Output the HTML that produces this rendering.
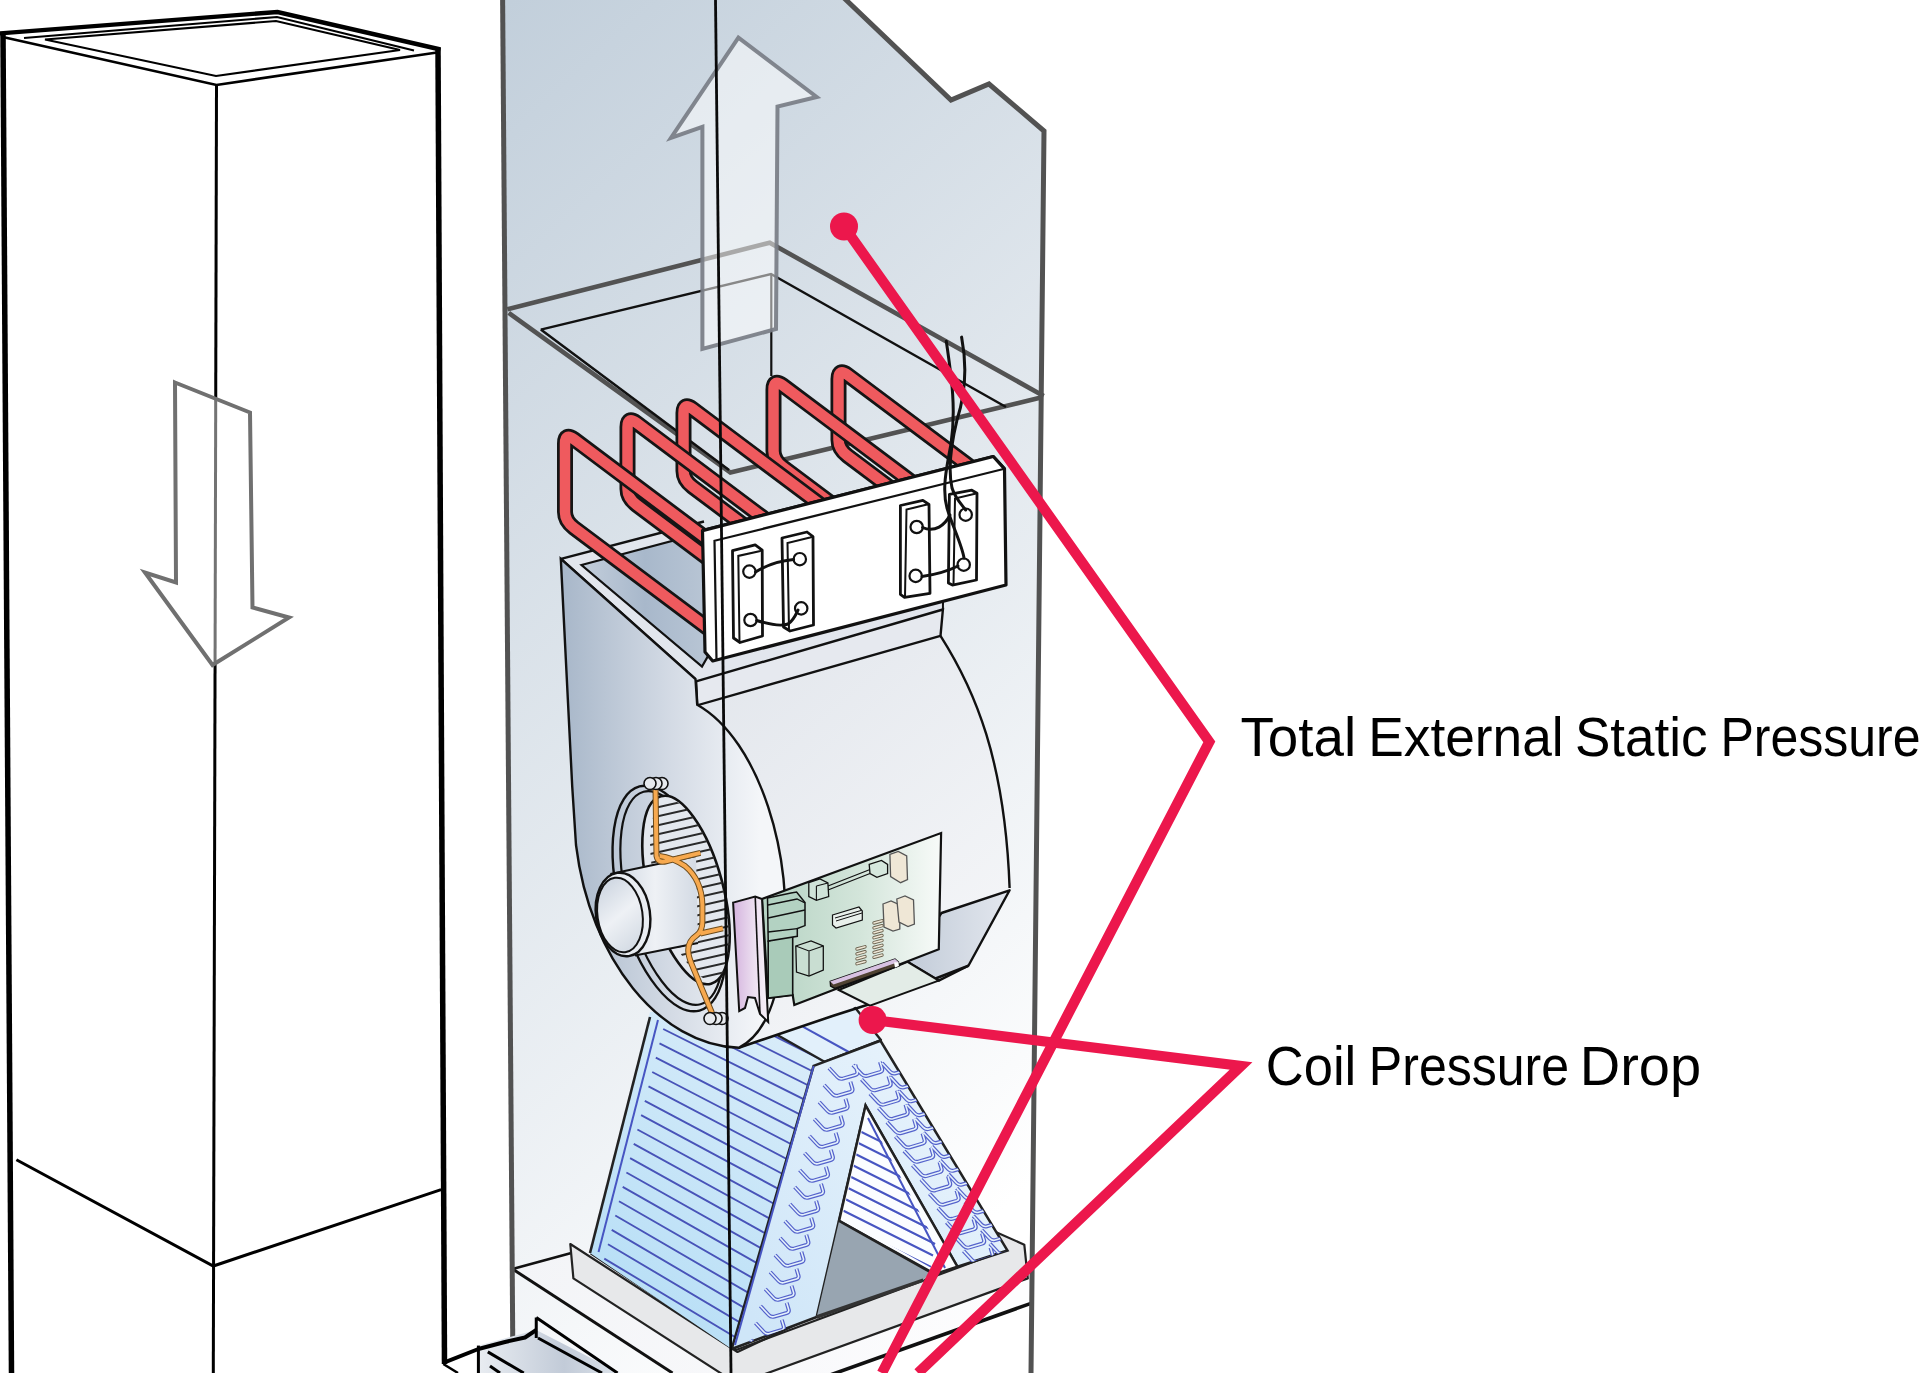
<!DOCTYPE html>
<html><head><meta charset="utf-8"><title>Total External Static Pressure</title>
<style>
html,body{margin:0;padding:0;background:#fff;}
body{width:1920px;height:1373px;overflow:hidden;}
svg{display:block;}
text{font-family:"Liberation Sans",sans-serif;}
</style></head>
<body>
<svg width="1920" height="1373" viewBox="0 0 1920 1373">

<defs>
  <linearGradient id="cab" gradientUnits="userSpaceOnUse" x1="510" y1="0" x2="1334.5" y2="909.2">
    <stop offset="0" stop-color="rgb(194,207,219)"/>
    <stop offset="1" stop-color="#ffffff"/>
  </linearGradient>
  <linearGradient id="side" gradientUnits="userSpaceOnUse" x1="565" y1="0" x2="760" y2="0">
    <stop offset="0" stop-color="#a9b8ca"/>
    <stop offset="0.55" stop-color="#d4dbe5"/>
    <stop offset="1" stop-color="#f4f6f9"/>
  </linearGradient>
  <linearGradient id="wrap" gradientUnits="userSpaceOnUse" x1="700" y1="650" x2="1000" y2="1000">
    <stop offset="0" stop-color="#e2e6ec"/>
    <stop offset="1" stop-color="#f6f7f9"/>
  </linearGradient>
  <linearGradient id="topin" gradientUnits="userSpaceOnUse" x1="580" y1="0" x2="710" y2="0">
    <stop offset="0" stop-color="#c3cedb"/>
    <stop offset="0.5" stop-color="#a8b8cb"/>
    <stop offset="1" stop-color="#b9c6d5"/>
  </linearGradient>
  <linearGradient id="coilL" gradientUnits="userSpaceOnUse" x1="600" y1="1300" x2="800" y2="1050">
    <stop offset="0" stop-color="#b6def6"/>
    <stop offset="1" stop-color="#d8ecf9"/>
  </linearGradient>
  <linearGradient id="coilE" gradientUnits="userSpaceOnUse" x1="740" y1="1300" x2="1000" y2="1100">
    <stop offset="0" stop-color="#cfe6f8"/>
    <stop offset="1" stop-color="#eaf4fc"/>
  </linearGradient>
  <linearGradient id="motor" gradientUnits="userSpaceOnUse" x1="600" y1="0" x2="700" y2="0">
    <stop offset="0" stop-color="#c5cedb"/>
    <stop offset="0.55" stop-color="#eef1f5"/>
    <stop offset="1" stop-color="#d2d9e3"/>
  </linearGradient>
  <linearGradient id="cap" gradientUnits="userSpaceOnUse" x1="598" y1="880" x2="642" y2="950">
    <stop offset="0" stop-color="#c9d2de"/>
    <stop offset="0.5" stop-color="#eef1f5"/>
    <stop offset="1" stop-color="#cfd7e1"/>
  </linearGradient>
  <linearGradient id="pink" gradientUnits="userSpaceOnUse" x1="733" y1="0" x2="768" y2="0">
    <stop offset="0" stop-color="#d4b3de"/>
    <stop offset="0.6" stop-color="#ecdff0"/>
    <stop offset="1" stop-color="#f7f0f8"/>
  </linearGradient>
  <linearGradient id="outlet" gradientUnits="userSpaceOnUse" x1="920" y1="0" x2="1010" y2="0">
    <stop offset="0" stop-color="#c6cfdb"/>
    <stop offset="1" stop-color="#e3e7ee"/>
  </linearGradient>
  <linearGradient id="plat" gradientUnits="userSpaceOnUse" x1="520" y1="1270" x2="1000" y2="1350">
    <stop offset="0" stop-color="#f3f4f7"/>
    <stop offset="1" stop-color="#fdfdfe"/>
  </linearGradient>
  <linearGradient id="board" gradientUnits="userSpaceOnUse" x1="760" y1="0" x2="940" y2="0">
    <stop offset="0" stop-color="#b4d2c2"/>
    <stop offset="0.55" stop-color="#d3e5da"/>
    <stop offset="1" stop-color="#f7faf8"/>
  </linearGradient>
  <linearGradient id="grille" gradientUnits="userSpaceOnUse" x1="480" y1="0" x2="620" y2="0">
    <stop offset="0" stop-color="#e8ecf1"/>
    <stop offset="0.6" stop-color="#c2cbd8"/>
    <stop offset="1" stop-color="#dde3ea"/>
  </linearGradient>
</defs>
<rect width="1920" height="1373" fill="#fff"/>
<g fill="none" stroke="#000" stroke-linejoin="miter">
  <path d="M3,33 L11.5,1373" stroke-width="5.5"/>
  <path d="M438,48 L444.5,1364" stroke-width="5.5"/>
  <path d="M216.5,85 L213.3,1373" stroke-width="3"/>
  <path d="M-2,33.5 L277.5,12 L440.5,49.5" stroke-width="4.4"/>
  <path d="M5,37.5 L216.5,85 L437,52.5" stroke-width="2.7"/>
  <path d="M24,38 L277,17 L414,50.5" stroke-width="2.1"/>
  <path d="M45,39.5 L276,21 L400,50 L216,76 Z" stroke-width="2.1"/>
  <path d="M16.4,1159.7 L213.3,1266 L441.1,1189.6" stroke-width="3"/>
</g>
<path d="M175,382.5 L250,412.5 L252.5,607.5 L289,617.5 L212.5,665 L145,572.5 L176,582.5 Z" fill="#fff" fill-opacity="0.45" stroke="#707070" stroke-width="4"/>
<path d="M503,0 L843,0 L951,100 L989,84 L1044,131 L1031,1373 L513,1373 Z" fill="url(#cab)"/>
<g fill="none">
  <path d="M507.3,309.2 L769.7,242.7 L1043.7,396" stroke="#535353" stroke-width="4.6"/>
  <path d="M508.7,312.8 L730.4,472.5 L1041,397.5" stroke="#535353" stroke-width="4.6"/>
  <path d="M540.8,329.6 L771,274 L1006,407" stroke="#111" stroke-width="2.5"/>
  <path d="M540.8,329.6 L729,470" stroke="#111" stroke-width="2.5"/>
  <path d="M771.3,274 L771.3,376" stroke="#111" stroke-width="2.2"/>
</g>
<path d="M738.4,37.6 L816.7,97 L777.5,106.5 L776,329 L702.4,349 L702.4,126.8 L671,137.8 Z" fill="#fff" fill-opacity="0.5" stroke="#787d85" stroke-opacity="0.92" stroke-width="4"/>
<path d="M512.5,1269 L800,1190 L1034,1255 L1031.7,1303.1 L760,1400 L672.5,1373 Z" fill="url(#plat)"/>
<path d="M760,1400 L1031.7,1303.1 L1031.7,1380 L760,1400 Z" fill="#fff"/>
<path d="M512.5,1269 L672.5,1373" fill="none" stroke="#111" stroke-width="3"/>
<path d="M512.5,1269 L575,1252" fill="none" stroke="#111" stroke-width="2.6"/>
<path d="M760,1400 L1031.7,1303.1" fill="none" stroke="#111" stroke-width="3.6"/>
<path d="M570.3,1244 L737.5,1352 L994,1231.3 L1024.3,1244.7 L1027.8,1278.4 L737.5,1384 L573.4,1278.4 Z" fill="#e7e8ea" stroke="#222" stroke-width="2.2" stroke-linejoin="round"/>
<path d="M590.6,1253.4 L736,1350 L1004.7,1250.3" fill="none" stroke="#222" stroke-width="2.2"/>
<clipPath id="clipLF"><path d="M650,1012 L770,1005 L777.8,1035.3 L824.5,1061.8 L813.6,1065.9 L731.7,1349 L590,1253 Z"/></clipPath>
<path d="M650,1012 L770,1005 L777.8,1035.3 L824.5,1061.8 L813.6,1065.9 L731.7,1349 L590,1253 Z" fill="url(#coilL)"/>
<path d="M689.0,928.5 L909.0,1038.5 M685.3,942.9 L905.3,1052.9 M681.6,957.2 L901.6,1067.2 M677.9,971.6 L897.9,1081.6 M674.2,986.0 L894.2,1096.0 M670.6,1000.3 L890.6,1110.3 M666.9,1014.6 L886.9,1124.7 M663.2,1029.0 L883.2,1139.0 M659.5,1043.3 L879.5,1154.7 M655.8,1057.7 L875.8,1170.4 M652.2,1072.0 L872.2,1186.2 M648.5,1086.4 L868.5,1201.9 M644.8,1100.8 L864.8,1217.6 M641.1,1115.1 L861.1,1233.3 M637.4,1129.5 L857.4,1249.1 M633.7,1143.8 L853.7,1264.8 M630.1,1158.2 L850.1,1280.5 M626.4,1172.5 L846.4,1296.2 M622.7,1186.8 L842.7,1311.9 M619.0,1201.2 L839.0,1327.7 M615.3,1215.5 L835.3,1343.4 M611.7,1229.9 L831.7,1359.1 M608.0,1244.2 L828.0,1374.8 M604.3,1258.6 L824.3,1390.6" stroke="#4853b8" stroke-width="1.9" fill="none" clip-path="url(#clipLF)"/>
<path d="M658,1020 L598.5,1252" stroke="#4755c2" stroke-width="2" fill="none"/>
<path d="M650,1017 L590,1253" stroke="#222" stroke-width="2.6" fill="none"/>
<path d="M777.8,1035.3 L790,1005 L845,995 L880.9,1040 L824.5,1061.8 Z" fill="#e2f0fb" stroke="#222" stroke-width="2.4" stroke-linejoin="round"/>
<path d="M802.8,1026.7 L849.7,1052.5" stroke="#4755c2" stroke-width="2" fill="none"/>
<path d="M813.6,1065.9 L880.4,1040.7 L1007.4,1250.4 L957.4,1266.7 L865.6,1105.6 L816.7,1317 L731.7,1349 Z" fill="url(#coilE)" stroke="#222" stroke-width="2.6"/>
<path d="M813.6,1065.9 L735,1345" stroke="#4755c2" stroke-width="2" fill="none"/>
<path d="M865.6,1105.6 L957.4,1266.7 L935,1274 L839.1,1220.9 Z" fill="#fbfdff" stroke="#222" stroke-width="2.4"/>
<path d="M868,1118 L945,1268" stroke="#4755c2" stroke-width="2" fill="none"/>
<clipPath id="clipIN"><path d="M866,1112 L945,1260 L935,1270 L842,1218 Z"/></clipPath>
<path d="M857.5,1130.0 L947.5,1175.0 M855.4,1141.5 L945.4,1186.5 M853.4,1153.0 L943.4,1198.0 M851.3,1164.5 L941.3,1209.5 M849.2,1176.0 L939.2,1221.0 M847.1,1187.5 L937.1,1232.5 M845.1,1199.0 L935.1,1244.0 M843.0,1210.5 L933.0,1255.5 M840.9,1222.0 L930.9,1267.0 M838.9,1233.5 L928.9,1278.5 M836.8,1245.0 L926.8,1290.0 M834.7,1256.5 L924.7,1301.5" stroke="#4755c2" stroke-width="2" fill="none" clip-path="url(#clipIN)"/>
<path d="M839.1,1220.9 L930,1272 L923.3,1280.2 L816.7,1317 Z" fill="#98a5b1"/>
<path d="M816.7,1317 L923.3,1280.2" stroke="#333" stroke-width="3.5" fill="none"/>
<path d="M839.1,1220.9 L930,1272" stroke="#222" stroke-width="2.4" fill="none"/>
<clipPath id="clipEF"><path d="M813.6,1065.9 L880.4,1040.7 L1007.4,1250.4 L957.4,1266.7 L865.6,1105.6 L816.7,1317 L731.7,1349 Z"/></clipPath>
<g clip-path="url(#clipEF)" fill="none" stroke-linejoin="round"><path d="M829.0,1068.0 l8.4,9.0 q2.2,2.5 5.6,1.6 l12.3,-3.6 q2.7,-0.9 2.0,-3.4 l-2.0,-6.7 M824.1,1085.0 l8.4,9.0 q2.2,2.5 5.6,1.6 l12.3,-3.6 q2.7,-0.9 2.0,-3.4 l-2.0,-6.7 M819.2,1102.0 l8.4,9.0 q2.2,2.5 5.6,1.6 l12.3,-3.6 q2.7,-0.9 2.0,-3.4 l-2.0,-6.7 M814.3,1119.0 l8.4,9.0 q2.2,2.5 5.6,1.6 l12.3,-3.6 q2.7,-0.9 2.0,-3.4 l-2.0,-6.7 M809.4,1136.0 l8.4,9.0 q2.2,2.5 5.6,1.6 l12.3,-3.6 q2.7,-0.9 2.0,-3.4 l-2.0,-6.7 M804.5,1153.0 l8.4,9.0 q2.2,2.5 5.6,1.6 l12.3,-3.6 q2.7,-0.9 2.0,-3.4 l-2.0,-6.7 M799.6,1170.0 l8.4,9.0 q2.2,2.5 5.6,1.6 l12.3,-3.6 q2.7,-0.9 2.0,-3.4 l-2.0,-6.7 M794.7,1187.0 l8.4,9.0 q2.2,2.5 5.6,1.6 l12.3,-3.6 q2.7,-0.9 2.0,-3.4 l-2.0,-6.7 M789.8,1204.0 l8.4,9.0 q2.2,2.5 5.6,1.6 l12.3,-3.6 q2.7,-0.9 2.0,-3.4 l-2.0,-6.7 M784.9,1221.0 l8.4,9.0 q2.2,2.5 5.6,1.6 l12.3,-3.6 q2.7,-0.9 2.0,-3.4 l-2.0,-6.7 M780.0,1238.0 l8.4,9.0 q2.2,2.5 5.6,1.6 l12.3,-3.6 q2.7,-0.9 2.0,-3.4 l-2.0,-6.7 M775.1,1255.0 l8.4,9.0 q2.2,2.5 5.6,1.6 l12.3,-3.6 q2.7,-0.9 2.0,-3.4 l-2.0,-6.7 M770.2,1272.0 l8.4,9.0 q2.2,2.5 5.6,1.6 l12.3,-3.6 q2.7,-0.9 2.0,-3.4 l-2.0,-6.7 M765.3,1289.0 l8.4,9.0 q2.2,2.5 5.6,1.6 l12.3,-3.6 q2.7,-0.9 2.0,-3.4 l-2.0,-6.7 M760.4,1306.0 l8.4,9.0 q2.2,2.5 5.6,1.6 l12.3,-3.6 q2.7,-0.9 2.0,-3.4 l-2.0,-6.7 M755.5,1323.0 l8.4,9.0 q2.2,2.5 5.6,1.6 l12.3,-3.6 q2.7,-0.9 2.0,-3.4 l-2.0,-6.7 M750.6,1340.0 l8.4,9.0 q2.2,2.5 5.6,1.6 l12.3,-3.6 q2.7,-0.9 2.0,-3.4 l-2.0,-6.7 M853.0,1065.0 l8.6,9.2 q2.3,2.5 5.8,1.6 l12.6,-3.7 q2.8,-0.9 2.1,-3.4 l-2.1,-6.9 M882.0,1063.0 l8.2,8.8 q2.2,2.4 5.5,1.5 l12.1,-3.5 q2.6,-0.9 2.0,-3.3 l-2.0,-6.6 M861.5,1079.3 l8.6,9.2 q2.3,2.5 5.8,1.6 l12.6,-3.7 q2.8,-0.9 2.1,-3.4 l-2.1,-6.9 M890.3,1076.9 l8.2,8.8 q2.2,2.4 5.5,1.5 l12.1,-3.5 q2.6,-0.9 2.0,-3.3 l-2.0,-6.6 M870.0,1093.6 l8.6,9.2 q2.3,2.5 5.8,1.6 l12.6,-3.7 q2.8,-0.9 2.1,-3.4 l-2.1,-6.9 M898.6,1090.8 l8.2,8.8 q2.2,2.4 5.5,1.5 l12.1,-3.5 q2.6,-0.9 2.0,-3.3 l-2.0,-6.6 M878.5,1107.9 l8.6,9.2 q2.3,2.5 5.8,1.6 l12.6,-3.7 q2.8,-0.9 2.1,-3.4 l-2.1,-6.9 M906.9,1104.7 l8.2,8.8 q2.2,2.4 5.5,1.5 l12.1,-3.5 q2.6,-0.9 2.0,-3.3 l-2.0,-6.6 M887.0,1122.2 l8.6,9.2 q2.3,2.5 5.8,1.6 l12.6,-3.7 q2.8,-0.9 2.1,-3.4 l-2.1,-6.9 M915.2,1118.6 l8.2,8.8 q2.2,2.4 5.5,1.5 l12.1,-3.5 q2.6,-0.9 2.0,-3.3 l-2.0,-6.6 M895.5,1136.5 l8.6,9.2 q2.3,2.5 5.8,1.6 l12.6,-3.7 q2.8,-0.9 2.1,-3.4 l-2.1,-6.9 M923.5,1132.5 l8.2,8.8 q2.2,2.4 5.5,1.5 l12.1,-3.5 q2.6,-0.9 2.0,-3.3 l-2.0,-6.6 M904.0,1150.8 l8.6,9.2 q2.3,2.5 5.8,1.6 l12.6,-3.7 q2.8,-0.9 2.1,-3.4 l-2.1,-6.9 M931.8,1146.4 l8.2,8.8 q2.2,2.4 5.5,1.5 l12.1,-3.5 q2.6,-0.9 2.0,-3.3 l-2.0,-6.6 M912.5,1165.1 l8.6,9.2 q2.3,2.5 5.8,1.6 l12.6,-3.7 q2.8,-0.9 2.1,-3.4 l-2.1,-6.9 M940.1,1160.3 l8.2,8.8 q2.2,2.4 5.5,1.5 l12.1,-3.5 q2.6,-0.9 2.0,-3.3 l-2.0,-6.6 M921.0,1179.4 l8.6,9.2 q2.3,2.5 5.8,1.6 l12.6,-3.7 q2.8,-0.9 2.1,-3.4 l-2.1,-6.9 M948.4,1174.2 l8.2,8.8 q2.2,2.4 5.5,1.5 l12.1,-3.5 q2.6,-0.9 2.0,-3.3 l-2.0,-6.6 M929.5,1193.7 l8.6,9.2 q2.3,2.5 5.8,1.6 l12.6,-3.7 q2.8,-0.9 2.1,-3.4 l-2.1,-6.9 M956.7,1188.1 l8.2,8.8 q2.2,2.4 5.5,1.5 l12.1,-3.5 q2.6,-0.9 2.0,-3.3 l-2.0,-6.6 M938.0,1208.0 l8.6,9.2 q2.3,2.5 5.8,1.6 l12.6,-3.7 q2.8,-0.9 2.1,-3.4 l-2.1,-6.9 M965.0,1202.0 l8.2,8.8 q2.2,2.4 5.5,1.5 l12.1,-3.5 q2.6,-0.9 2.0,-3.3 l-2.0,-6.6 M946.5,1222.3 l8.6,9.2 q2.3,2.5 5.8,1.6 l12.6,-3.7 q2.8,-0.9 2.1,-3.4 l-2.1,-6.9 M973.3,1215.9 l8.2,8.8 q2.2,2.4 5.5,1.5 l12.1,-3.5 q2.6,-0.9 2.0,-3.3 l-2.0,-6.6 M955.0,1236.6 l8.6,9.2 q2.3,2.5 5.8,1.6 l12.6,-3.7 q2.8,-0.9 2.1,-3.4 l-2.1,-6.9 M981.6,1229.8 l8.2,8.8 q2.2,2.4 5.5,1.5 l12.1,-3.5 q2.6,-0.9 2.0,-3.3 l-2.0,-6.6 M963.5,1250.9 l8.6,9.2 q2.3,2.5 5.8,1.6 l12.6,-3.7 q2.8,-0.9 2.1,-3.4 l-2.1,-6.9 M989.9,1243.7 l8.2,8.8 q2.2,2.4 5.5,1.5 l12.1,-3.5 q2.6,-0.9 2.0,-3.3 l-2.0,-6.6" stroke="#5563cc" stroke-width="4"/><path d="M829.0,1068.0 l8.4,9.0 q2.2,2.5 5.6,1.6 l12.3,-3.6 q2.7,-0.9 2.0,-3.4 l-2.0,-6.7 M824.1,1085.0 l8.4,9.0 q2.2,2.5 5.6,1.6 l12.3,-3.6 q2.7,-0.9 2.0,-3.4 l-2.0,-6.7 M819.2,1102.0 l8.4,9.0 q2.2,2.5 5.6,1.6 l12.3,-3.6 q2.7,-0.9 2.0,-3.4 l-2.0,-6.7 M814.3,1119.0 l8.4,9.0 q2.2,2.5 5.6,1.6 l12.3,-3.6 q2.7,-0.9 2.0,-3.4 l-2.0,-6.7 M809.4,1136.0 l8.4,9.0 q2.2,2.5 5.6,1.6 l12.3,-3.6 q2.7,-0.9 2.0,-3.4 l-2.0,-6.7 M804.5,1153.0 l8.4,9.0 q2.2,2.5 5.6,1.6 l12.3,-3.6 q2.7,-0.9 2.0,-3.4 l-2.0,-6.7 M799.6,1170.0 l8.4,9.0 q2.2,2.5 5.6,1.6 l12.3,-3.6 q2.7,-0.9 2.0,-3.4 l-2.0,-6.7 M794.7,1187.0 l8.4,9.0 q2.2,2.5 5.6,1.6 l12.3,-3.6 q2.7,-0.9 2.0,-3.4 l-2.0,-6.7 M789.8,1204.0 l8.4,9.0 q2.2,2.5 5.6,1.6 l12.3,-3.6 q2.7,-0.9 2.0,-3.4 l-2.0,-6.7 M784.9,1221.0 l8.4,9.0 q2.2,2.5 5.6,1.6 l12.3,-3.6 q2.7,-0.9 2.0,-3.4 l-2.0,-6.7 M780.0,1238.0 l8.4,9.0 q2.2,2.5 5.6,1.6 l12.3,-3.6 q2.7,-0.9 2.0,-3.4 l-2.0,-6.7 M775.1,1255.0 l8.4,9.0 q2.2,2.5 5.6,1.6 l12.3,-3.6 q2.7,-0.9 2.0,-3.4 l-2.0,-6.7 M770.2,1272.0 l8.4,9.0 q2.2,2.5 5.6,1.6 l12.3,-3.6 q2.7,-0.9 2.0,-3.4 l-2.0,-6.7 M765.3,1289.0 l8.4,9.0 q2.2,2.5 5.6,1.6 l12.3,-3.6 q2.7,-0.9 2.0,-3.4 l-2.0,-6.7 M760.4,1306.0 l8.4,9.0 q2.2,2.5 5.6,1.6 l12.3,-3.6 q2.7,-0.9 2.0,-3.4 l-2.0,-6.7 M755.5,1323.0 l8.4,9.0 q2.2,2.5 5.6,1.6 l12.3,-3.6 q2.7,-0.9 2.0,-3.4 l-2.0,-6.7 M750.6,1340.0 l8.4,9.0 q2.2,2.5 5.6,1.6 l12.3,-3.6 q2.7,-0.9 2.0,-3.4 l-2.0,-6.7 M853.0,1065.0 l8.6,9.2 q2.3,2.5 5.8,1.6 l12.6,-3.7 q2.8,-0.9 2.1,-3.4 l-2.1,-6.9 M882.0,1063.0 l8.2,8.8 q2.2,2.4 5.5,1.5 l12.1,-3.5 q2.6,-0.9 2.0,-3.3 l-2.0,-6.6 M861.5,1079.3 l8.6,9.2 q2.3,2.5 5.8,1.6 l12.6,-3.7 q2.8,-0.9 2.1,-3.4 l-2.1,-6.9 M890.3,1076.9 l8.2,8.8 q2.2,2.4 5.5,1.5 l12.1,-3.5 q2.6,-0.9 2.0,-3.3 l-2.0,-6.6 M870.0,1093.6 l8.6,9.2 q2.3,2.5 5.8,1.6 l12.6,-3.7 q2.8,-0.9 2.1,-3.4 l-2.1,-6.9 M898.6,1090.8 l8.2,8.8 q2.2,2.4 5.5,1.5 l12.1,-3.5 q2.6,-0.9 2.0,-3.3 l-2.0,-6.6 M878.5,1107.9 l8.6,9.2 q2.3,2.5 5.8,1.6 l12.6,-3.7 q2.8,-0.9 2.1,-3.4 l-2.1,-6.9 M906.9,1104.7 l8.2,8.8 q2.2,2.4 5.5,1.5 l12.1,-3.5 q2.6,-0.9 2.0,-3.3 l-2.0,-6.6 M887.0,1122.2 l8.6,9.2 q2.3,2.5 5.8,1.6 l12.6,-3.7 q2.8,-0.9 2.1,-3.4 l-2.1,-6.9 M915.2,1118.6 l8.2,8.8 q2.2,2.4 5.5,1.5 l12.1,-3.5 q2.6,-0.9 2.0,-3.3 l-2.0,-6.6 M895.5,1136.5 l8.6,9.2 q2.3,2.5 5.8,1.6 l12.6,-3.7 q2.8,-0.9 2.1,-3.4 l-2.1,-6.9 M923.5,1132.5 l8.2,8.8 q2.2,2.4 5.5,1.5 l12.1,-3.5 q2.6,-0.9 2.0,-3.3 l-2.0,-6.6 M904.0,1150.8 l8.6,9.2 q2.3,2.5 5.8,1.6 l12.6,-3.7 q2.8,-0.9 2.1,-3.4 l-2.1,-6.9 M931.8,1146.4 l8.2,8.8 q2.2,2.4 5.5,1.5 l12.1,-3.5 q2.6,-0.9 2.0,-3.3 l-2.0,-6.6 M912.5,1165.1 l8.6,9.2 q2.3,2.5 5.8,1.6 l12.6,-3.7 q2.8,-0.9 2.1,-3.4 l-2.1,-6.9 M940.1,1160.3 l8.2,8.8 q2.2,2.4 5.5,1.5 l12.1,-3.5 q2.6,-0.9 2.0,-3.3 l-2.0,-6.6 M921.0,1179.4 l8.6,9.2 q2.3,2.5 5.8,1.6 l12.6,-3.7 q2.8,-0.9 2.1,-3.4 l-2.1,-6.9 M948.4,1174.2 l8.2,8.8 q2.2,2.4 5.5,1.5 l12.1,-3.5 q2.6,-0.9 2.0,-3.3 l-2.0,-6.6 M929.5,1193.7 l8.6,9.2 q2.3,2.5 5.8,1.6 l12.6,-3.7 q2.8,-0.9 2.1,-3.4 l-2.1,-6.9 M956.7,1188.1 l8.2,8.8 q2.2,2.4 5.5,1.5 l12.1,-3.5 q2.6,-0.9 2.0,-3.3 l-2.0,-6.6 M938.0,1208.0 l8.6,9.2 q2.3,2.5 5.8,1.6 l12.6,-3.7 q2.8,-0.9 2.1,-3.4 l-2.1,-6.9 M965.0,1202.0 l8.2,8.8 q2.2,2.4 5.5,1.5 l12.1,-3.5 q2.6,-0.9 2.0,-3.3 l-2.0,-6.6 M946.5,1222.3 l8.6,9.2 q2.3,2.5 5.8,1.6 l12.6,-3.7 q2.8,-0.9 2.1,-3.4 l-2.1,-6.9 M973.3,1215.9 l8.2,8.8 q2.2,2.4 5.5,1.5 l12.1,-3.5 q2.6,-0.9 2.0,-3.3 l-2.0,-6.6 M955.0,1236.6 l8.6,9.2 q2.3,2.5 5.8,1.6 l12.6,-3.7 q2.8,-0.9 2.1,-3.4 l-2.1,-6.9 M981.6,1229.8 l8.2,8.8 q2.2,2.4 5.5,1.5 l12.1,-3.5 q2.6,-0.9 2.0,-3.3 l-2.0,-6.6 M963.5,1250.9 l8.6,9.2 q2.3,2.5 5.8,1.6 l12.6,-3.7 q2.8,-0.9 2.1,-3.4 l-2.1,-6.9 M989.9,1243.7 l8.2,8.8 q2.2,2.4 5.5,1.5 l12.1,-3.5 q2.6,-0.9 2.0,-3.3 l-2.0,-6.6" stroke="#e4f1fb" stroke-width="1.6"/></g>
<path d="M561,558.9 L704,521.5 L712,534 L945,474 L942.9,609.5 L695.5,679.1 Z" fill="#e2e6ed"/>
<path d="M704,521.5 L561,558.9 L695.5,679.1" fill="none" stroke="#111" stroke-width="2.4" stroke-linejoin="round"/>
<path d="M581.5,565 L706,532 L760,565 L702,666.6 Z" fill="url(#topin)" stroke="#111" stroke-width="2.2"/>
<path d="M697.2,704.7 L940.5,635.8 C975,690 1005,760 1009.6,888 L970,966.6 L738.75,1047.8 Z" fill="url(#wrap)"/>
<path d="M696.1,681.4 L942.9,609.5 L940.5,635.8 L697.3,705.3 Z" fill="#e6e9ef" stroke="#111" stroke-width="2.4"/>
<path d="M940.5,635.8 C975,690 1005,760 1009.6,888" fill="none" stroke="#111" stroke-width="2.4"/>
<path d="M943.2,588 L942.9,610" fill="none" stroke="#111" stroke-width="2"/>
<path d="M907.5,961.9 L941.5,913 L1009.6,890.3 L968.4,965.8 L938.75,980.6 Z" fill="url(#outlet)" stroke="#111" stroke-width="2.4" stroke-linejoin="round"/>
<path d="M738.75,1047.8 L832.5,1016 L870,1004 L968.4,965.8" fill="none" stroke="#111" stroke-width="2.6"/>
<path d="M560.8,558.9 L695.5,679.1 L697.2,704.7 C760,740 795,860 783,950 C778,1000 765,1035 738.75,1047.8 C660,1045 590,960 576,845 L572.2,786.2 Z" fill="url(#side)" stroke="#111" stroke-width="2.4"/>
<path d="M975.0,470.4 L847.5,374.8 Q838.5,368.0 838.5,379.0 L838.5,440.0 Q838.5,449.0 847.5,455.8 L975.0,551.4" fill="none" stroke="#151515" stroke-width="16" stroke-linejoin="round"/>
<path d="M975.0,470.4 L847.5,374.8 Q838.5,368.0 838.5,379.0 L838.5,440.0 Q838.5,449.0 847.5,455.8 L975.0,551.4" fill="none" stroke="#ef5a5e" stroke-width="10.5" stroke-linejoin="round"/>
<path d="M943.5,506.0 L782.5,385.2 Q773.5,378.5 773.5,389.5 L773.5,451.0 Q773.5,460.0 782.5,466.8 L943.5,587.5" fill="none" stroke="#151515" stroke-width="16" stroke-linejoin="round"/>
<path d="M943.5,506.0 L782.5,385.2 Q773.5,378.5 773.5,389.5 L773.5,451.0 Q773.5,460.0 782.5,466.8 L943.5,587.5" fill="none" stroke="#ef5a5e" stroke-width="10.5" stroke-linejoin="round"/>
<path d="M853.5,529.5 L692.5,408.8 Q683.5,402.0 683.5,413.0 L683.5,471.0 Q683.5,480.0 692.5,486.8 L853.5,607.5" fill="none" stroke="#151515" stroke-width="16" stroke-linejoin="round"/>
<path d="M853.5,529.5 L692.5,408.8 Q683.5,402.0 683.5,413.0 L683.5,471.0 Q683.5,480.0 692.5,486.8 L853.5,607.5" fill="none" stroke="#ef5a5e" stroke-width="10.5" stroke-linejoin="round"/>
<path d="M797.5,543.5 L636.5,422.8 Q627.5,416.0 627.5,427.0 L627.5,489.0 Q627.5,498.0 636.5,504.8 L797.5,625.5" fill="none" stroke="#151515" stroke-width="16" stroke-linejoin="round"/>
<path d="M797.5,543.5 L636.5,422.8 Q627.5,416.0 627.5,427.0 L627.5,489.0 Q627.5,498.0 636.5,504.8 L797.5,625.5" fill="none" stroke="#ef5a5e" stroke-width="10.5" stroke-linejoin="round"/>
<path d="M735.0,560.0 L574.0,439.2 Q565.0,432.5 565.0,443.5 L565.0,512.0 Q565.0,521.0 574.0,527.8 L735.0,648.5" fill="none" stroke="#151515" stroke-width="16" stroke-linejoin="round"/>
<path d="M735.0,560.0 L574.0,439.2 Q565.0,432.5 565.0,443.5 L565.0,512.0 Q565.0,521.0 574.0,527.8 L735.0,648.5" fill="none" stroke="#ef5a5e" stroke-width="10.5" stroke-linejoin="round"/>
<path d="M702.5,530.6 L993.3,456.5 L1004.5,468.8 L1006,585 L712.7,661 L705,652 Z" fill="#fff" stroke="#111" stroke-width="3.2" stroke-linejoin="round"/>
<path d="M993.3,456.5 L1004.5,468.8 L714.5,540.8 L702.5,530.6 Z" fill="#fff"/>
<path d="M702.5,530.6 L993.3,456.5 L1004.5,468.8" fill="none" stroke="#111" stroke-width="3.2" stroke-linejoin="round"/>
<path d="M1004.5,468.8 L714.5,540.8 L716.5,660" fill="none" stroke="#111" stroke-width="2.2"/>
<path d="M732.5,550.7 L755.2,544.8 L762.2,550.1 L762.5,636 L740,642.5 L733.5,638 Z" fill="#fff" stroke="#111" stroke-width="2.8" stroke-linejoin="round"/>
<path d="M739.5,642 L738.3,555.9 L759.3,551.3 L762.2,550.1" fill="none" stroke="#111" stroke-width="2"/>
<circle cx="749.4" cy="571.6" r="6.2" fill="#fff" stroke="#111" stroke-width="2.2"/>
<circle cx="750.5" cy="620" r="6.2" fill="#fff" stroke="#111" stroke-width="2.2"/>
<path d="M782,538 L807,532 L813,536.5 L813.5,625 L790,631 L783.5,627 Z" fill="#fff" stroke="#111" stroke-width="2.8" stroke-linejoin="round"/>
<path d="M789,631 L787.5,543 L810,537.5 L813,536.5" fill="none" stroke="#111" stroke-width="2"/>
<circle cx="799.8" cy="559.2" r="6.2" fill="#fff" stroke="#111" stroke-width="2.2"/>
<circle cx="801.2" cy="608.4" r="6.2" fill="#fff" stroke="#111" stroke-width="2.2"/>
<path d="M900.4,505.5 L922.9,500.4 L929,504.5 L930,593.3 L904.5,597.3 L900.4,594.3 Z" fill="#fff" stroke="#111" stroke-width="2.8" stroke-linejoin="round"/>
<path d="M905,597 L906.5,509.6 L926,504.8 L929,504.5" fill="none" stroke="#111" stroke-width="2"/>
<circle cx="916.7" cy="527" r="6.2" fill="#fff" stroke="#111" stroke-width="2.2"/>
<circle cx="915.7" cy="575.9" r="6.2" fill="#fff" stroke="#111" stroke-width="2.2"/>
<path d="M949.4,494.3 L971.8,490.2 L977,493.3 L976.5,580 L952.4,585.1 L948.4,583 Z" fill="#fff" stroke="#111" stroke-width="2.8" stroke-linejoin="round"/>
<path d="M953.5,585 L955,498.5 L975,493.8 L977,493.3" fill="none" stroke="#111" stroke-width="2"/>
<circle cx="965.7" cy="514.7" r="6.2" fill="#fff" stroke="#111" stroke-width="2.2"/>
<circle cx="963.7" cy="564.7" r="6.2" fill="#fff" stroke="#111" stroke-width="2.2"/>
<g fill="none" stroke="#111" stroke-width="3" stroke-linecap="round">
<path d="M755.5,572 C765,566 778,561 793.6,559.5"/>
<path d="M756.7,620.5 C768,624 780,627 788,624 C794,620 796,614 798,610"/>
<path d="M946.3,341.2 C952,380 956,410 951,444 C946,470 942,490 947,508 C952,525 962,545 964,558"/>
<path d="M961.6,337.1 C967,365 965,395 957,420 C951,445 948,470 952,488 C955,498 962,505 965.7,510"/>
<path d="M922.5,527.5 C935,533 945,525 950,515"/>
<path d="M922,576.5 C940,574 950,570 958,566"/>
</g>
<ellipse cx="669.5" cy="898.5" rx="50" ry="116" transform="rotate(-15 669.5 898.5)" fill="none" stroke="#111" stroke-width="2.4"/>
<ellipse cx="672" cy="898" rx="44.5" ry="110" transform="rotate(-15 672 898)" fill="none" stroke="#111" stroke-width="2.2"/>
<ellipse cx="686" cy="890" rx="37" ry="97" transform="rotate(-15 686 890)" fill="#e4e8ee" stroke="#111" stroke-width="2.6"/>
<clipPath id="clipFan"><ellipse cx="690" cy="890" rx="33" ry="93" transform="rotate(-15 690 890)"/></clipPath>
<g clip-path="url(#clipFan)"><path d="M650,800 L730,782 M650,809 L730,791 M650,818 L730,800 M650,827 L730,809 M650,836 L730,818 M650,845 L730,827 M650,854 L730,836 M650,863 L730,845 M650,872 L730,854 M650,881 L730,863 M650,890 L730,872 M650,899 L730,881 M650,908 L730,890 M650,917 L730,899 M650,926 L730,908 M650,935 L730,917 M650,944 L730,926 M650,953 L730,935 M650,962 L730,944 M650,971 L730,953 M650,980 L730,962 M650,989 L730,971" stroke="#2a2a2a" stroke-width="2" fill="none"/></g>
<path d="M610.4,874 L696,856 L698,943 L634.9,955.5 Z" fill="url(#motor)"/>
<path d="M610.4,874 L696,856 M634.9,955.5 L698,943" fill="none" stroke="#111" stroke-width="2.2"/>
<ellipse cx="623" cy="914.5" rx="27" ry="42" transform="rotate(-8 623 914.5)" fill="#e9edf2" stroke="#111" stroke-width="2.4"/>
<ellipse cx="620" cy="915" rx="22.5" ry="37.5" transform="rotate(-8 620 915)" fill="url(#cap)" stroke="#111" stroke-width="2"/>
<path d="M655.5,788 L656.5,855.9 C657.5,861 660,863 667,861 L700.4,852.9 M659.6,856 C668,857 676,860 685,866 C697,876 702,890 702.4,905 L702.4,921.2 C702.4,928 701,932 697,935 C691,939 688.2,943 688.2,950 C688.2,956 690,960 692,965 L712,1013 M700.4,933.5 L722.9,928.4" fill="none" stroke="#6d4c1d" stroke-width="6" stroke-linejoin="round"/>
<path d="M655.5,788 L656.5,855.9 C657.5,861 660,863 667,861 L700.4,852.9 M659.6,856 C668,857 676,860 685,866 C697,876 702,890 702.4,905 L702.4,921.2 C702.4,928 701,932 697,935 C691,939 688.2,943 688.2,950 C688.2,956 690,960 692,965 L712,1013 M700.4,933.5 L722.9,928.4" fill="none" stroke="#f7a94f" stroke-width="4" stroke-linejoin="round"/>
<circle cx="662" cy="783.5" r="6" fill="#e7eaee" stroke="#111" stroke-width="1.6"/>
<circle cx="656" cy="783.5" r="6" fill="#e7eaee" stroke="#111" stroke-width="1.6"/>
<circle cx="650" cy="783.5" r="6" fill="#e7eaee" stroke="#111" stroke-width="1.6"/>
<circle cx="722" cy="1018.5" r="6" fill="#e7eaee" stroke="#111" stroke-width="1.6"/>
<circle cx="716" cy="1018.5" r="6" fill="#e7eaee" stroke="#111" stroke-width="1.6"/>
<circle cx="710" cy="1018.5" r="6" fill="#e7eaee" stroke="#111" stroke-width="1.6"/>
<path d="M838.75,990 L907.5,961.9 L938.75,980.6 L870,1005.6 Z" fill="#e3ece7" stroke="#111" stroke-width="2"/>
<path d="M762,899 L941.1,833 L938.8,949.3 L794.3,1005.1 L792.7,995 L768.2,998 Z" fill="url(#board)" stroke="#111" stroke-width="2.2"/>
<path d="M768.2,941 L792.7,934.7 L792.7,995 L768.2,998 Z" fill="#a9cbb9" stroke="#111" stroke-width="1.6"/>
<path d="M767.5,898 L791,893 L796.6,892 L805,902.6 L805,925.6 L797.3,928.6 L797.3,936.3 L768.2,941 Z" fill="#b3d2c2" stroke="#111" stroke-width="1.5"/>
<path d="M768,905 L797,899 L805,903 M768,918 L805,910 M768,932 L797.3,928.6" fill="none" stroke="#111" stroke-width="1.3"/>
<path d="M808.8,882.7 L820,879 L827.9,883 L828.7,896.5 L816.4,900.3 L808.8,896.5 Z" fill="#cfe3d8" stroke="#111" stroke-width="1.3"/>
<path d="M816.4,886 L827.9,883 M816.4,886 L816.4,900.3" fill="none" stroke="#111" stroke-width="1.1"/>
<path d="M828,886 L870,869.5 M828,890 L870,873.5" fill="none" stroke="#111" stroke-width="1.2"/>
<path d="M869.2,864.4 L881.5,860.5 L887.6,864.4 L887.6,873.5 L876.9,877.4 L870,873.5 Z" fill="#d5e7dd" stroke="#111" stroke-width="1.3"/>
<path d="M889.9,854.4 L898.3,851.4 L906.7,856 L907.5,879.7 L900.6,882.7 L890.6,876.6 Z" fill="#efe7d6" stroke="#555" stroke-width="1.3"/>
<path d="M883,904 L891,901 L899.8,905 L899.8,929 L893,931 L884,927 Z" fill="#efe7d6" stroke="#555" stroke-width="1.3"/>
<path d="M896.8,899 L905,896 L913.5,900 L914.4,924 L908,926.5 L899,922 Z" fill="#efe7d6" stroke="#555" stroke-width="1.3"/>
<path d="M832.5,915 L859,907 L862.3,911 L862.3,920 L836,928 L832.5,925 Z" fill="#e8f0eb" stroke="#111" stroke-width="1.2"/>
<path d="M835,918 L861,910.5 M836,921 L862,913" fill="none" stroke="#111" stroke-width="1"/>
<path d="M795.8,946 L811,941 L823.3,946 L823.3,970 L809,976 L796.5,972 Z" fill="#c9ded2" stroke="#111" stroke-width="1.3"/>
<path d="M795.8,946 L809,951 L823.3,946 M809,951 L809,976" fill="none" stroke="#111" stroke-width="1.1"/>
<path d="M874,923.0 L882,920.8 M874,927.9 L882,925.7 M874,932.8 L882,930.6 M874,937.7 L882,935.5 M874,942.6 L882,940.4 M874,947.5 L882,945.3 M874,952.4 L882,950.2 M874,957.3 L882,955.1 M857,949.0 L865,946.8 M857,953.9 L865,951.7 M857,958.8 L865,956.6 M857,963.7 L865,961.5" stroke="#6e6552" stroke-width="3.4" stroke-linecap="round" fill="none"/>
<path d="M874,923.0 L882,920.8 M874,927.9 L882,925.7 M874,932.8 L882,930.6 M874,937.7 L882,935.5 M874,942.6 L882,940.4 M874,947.5 L882,945.3 M874,952.4 L882,950.2 M874,957.3 L882,955.1 M857,949.0 L865,946.8 M857,953.9 L865,951.7 M857,958.8 L865,956.6 M857,963.7 L865,961.5" stroke="#efe7d6" stroke-width="1.6" stroke-linecap="round" fill="none"/>
<path d="M830.2,981.4 L895,959 L898.5,962 L898.9,966 L834.8,988.4 L830.6,986 Z" fill="#4f4232" stroke="#111" stroke-width="1.4"/>
<path d="M830.2,981.4 L895,959 L898.5,962 L833.5,984.5 Z" fill="#d8c2e2" stroke="none"/>
<path d="M894,962.5 L898.5,962 L898.9,966 L895,967.5 Z" fill="#fff" stroke="none"/>
<path d="M733.1,902.6 L755.2,896.5 L762,899 L768.2,1022 L760,1014 L755,998 L748,997 L745,1008 L739.2,1011.2 Z" fill="url(#pink)" stroke="#111" stroke-width="2"/>
<path d="M755.2,896.5 L760,1014" fill="none" stroke="#111" stroke-width="1.6"/>
<path d="M502.6,-2 L513,1373" fill="none" stroke="#525252" stroke-width="5"/>
<path d="M478.4,1345.6 L536.25,1330 L620,1373 L478.4,1373 Z" fill="url(#grille)"/>
<path d="M443.3,1362.8 L478.4,1349 L505,1342 L525,1337.5 L536.25,1330" fill="none" stroke="#000" stroke-width="4" stroke-linejoin="round"/>
<path d="M443.3,1364 L458,1373" fill="none" stroke="#000" stroke-width="2.5"/>
<path d="M478.4,1345.6 L478.4,1373" fill="none" stroke="#000" stroke-width="3"/>
<path d="M536.25,1317.5 L536.25,1338 M536.25,1317.5 L617.5,1373 M538,1338 L602,1373 M487.8,1351.9 L523.75,1373" fill="none" stroke="#000" stroke-width="3"/>
<path d="M490,1366 L500,1373" fill="none" stroke="#000" stroke-width="3"/>
<path d="M843,-3 L951,100 L989,84 L1044,131 L1031,1373" fill="none" stroke="#525252" stroke-width="5"/>
<path d="M715.5,0 L731,1373" fill="none" stroke="#0a0a0a" stroke-width="2.8"/>
<g fill="none" stroke="#ec174c" stroke-width="10.3" stroke-linejoin="miter">
  <path d="M844,226.5 L1209.3,741.8 L881.9,1373"/>
  <path d="M872.6,1020 L1241,1066 L918,1373"/>
</g>
<circle cx="844" cy="226.5" r="14" fill="#ec174c"/>
<circle cx="872.6" cy="1020" r="14" fill="#ec174c"/>
<text x="1240.48" y="756" font-size="56" textLength="115.67" lengthAdjust="spacingAndGlyphs" fill="#000">Total</text>
<text x="1368.32" y="756" font-size="56" textLength="195.36" lengthAdjust="spacingAndGlyphs" fill="#000">External</text>
<text x="1574.91" y="756" font-size="56" textLength="132.65" lengthAdjust="spacingAndGlyphs" fill="#000">Static</text>
<text x="1720.38" y="756" font-size="56" textLength="200.19" lengthAdjust="spacingAndGlyphs" fill="#000">Pressure</text>
<text x="1265.79" y="1085" font-size="56" textLength="90.47" lengthAdjust="spacingAndGlyphs" fill="#000">Coil</text>
<text x="1368.87" y="1085" font-size="56" textLength="200.19" lengthAdjust="spacingAndGlyphs" fill="#000">Pressure</text>
<text x="1579.72" y="1085" font-size="56" textLength="121.4" lengthAdjust="spacingAndGlyphs" fill="#000">Drop</text>
</svg>
</body></html>
